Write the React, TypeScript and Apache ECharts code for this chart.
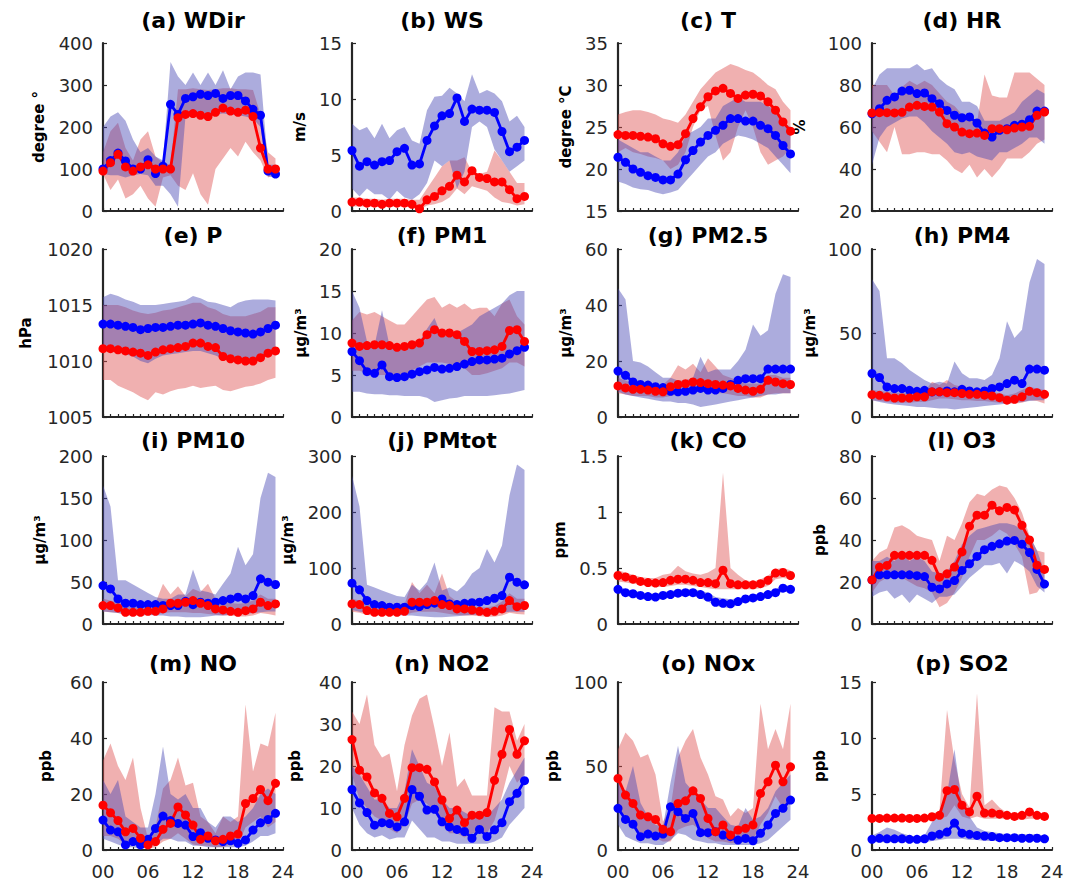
import React, { useEffect, useRef } from 'react';
import * as echarts from 'echarts';

const HOURS = ['00','01','02','03','04','05','06','07','08','09','10','11','12','13','14','15','16','17','18','19','20','21','22','23','24'];

// (a) WDir
const WDIR_B_MEAN = [100,120,138,119,100,100,122,89,107,254,230,268,272,278,275,280,268,275,275,262,242,228,95,88];
const WDIR_B_HI = [200,225,235,215,170,140,150,130,120,355,320,300,330,300,330,300,335,290,320,330,330,325,110,110];
const WDIR_B_LO = [88,85,85,80,85,88,85,60,60,40,10,225,225,228,228,230,232,230,228,225,220,200,82,80];
const WDIR_R_MEAN = [95,115,135,105,95,105,110,100,100,100,222,230,232,228,225,235,245,238,235,240,225,150,100,100];
const WDIR_R_HI = [140,190,210,150,120,170,190,130,115,110,290,290,292,290,288,290,292,292,290,290,288,230,140,125];
const WDIR_R_LO = [88,50,75,30,40,60,30,10,80,85,60,50,90,40,15,100,125,150,130,165,140,120,80,88];

// (b) WS
const WS_B_MEAN = [5.4,4.0,4.4,4.1,4.4,4.5,5.3,5.6,4.1,4.2,6.3,7.6,8.5,8.7,10.1,8.0,9.1,9.0,9.0,8.8,7.1,5.3,5.7,6.3];
const WS_B_HI = [7.8,7.2,7.5,6.5,7.8,6.5,7.2,7.5,6.3,6.0,9.0,10.2,10.3,11.0,10.5,9.8,12.2,10.5,10.8,10.5,9.8,8.0,8.5,7.5];
const WS_B_LO = [2.0,1.3,2.0,1.5,1.5,1.0,1.8,1.2,1.0,1.5,2.5,4.5,4.0,4.5,2.0,3.5,7.5,8.0,7.5,5.5,4.5,3.5,4.0,4.5];
const WS_R_MEAN = [0.8,0.8,0.7,0.7,0.6,0.7,0.7,0.7,0.6,0.2,1.0,1.3,1.8,2.2,3.2,2.6,3.6,3.0,2.9,2.6,2.6,1.9,1.1,1.3];
const WS_R_HI = [1.2,1.2,1.1,1.1,1.0,1.1,1.1,1.1,1.0,1.0,2.0,3.0,4.0,4.5,4.5,4.8,3.5,3.3,3.5,5.4,4.5,3.5,2.5,2.5];
const WS_R_LO = [0.4,0.4,0.4,0.4,0.3,0.4,0.4,0.4,0.3,0.1,0.5,0.6,0.8,1.2,2.0,1.5,2.2,2.0,1.8,1.2,0.8,0.7,0.5,0.6];

// (c) T
const T_B_MEAN = [21.4,20.8,20.0,19.6,19.2,19.0,18.7,18.7,19.4,21.1,22.2,23.2,24.0,24.6,25.2,26.0,26.0,25.7,25.7,25.2,24.8,24.0,22.8,21.8];
const T_B_HI = [23.5,23.0,22.5,22.0,22.0,21.5,21.0,21.0,22.0,24.0,24.5,25.0,26.0,26.0,27.5,28.0,28.5,28.0,28.0,28.0,27.5,27.0,25.5,25.0];
const T_B_LO = [18.5,18.2,17.8,17.6,17.5,17.2,17.0,17.2,17.5,18.5,19.5,20.5,21.5,22.0,23.0,23.5,24.0,23.8,23.5,23.0,22.5,21.5,20.5,19.5];
const T_R_MEAN = [24.1,24.0,24.0,23.9,23.8,23.6,23.0,22.7,22.9,24.2,26.0,27.4,28.6,29.3,29.6,29.0,28.4,28.8,28.9,28.7,28.0,27.0,25.6,24.5];
const T_R_HI = [26.5,26.8,27.0,27.0,26.8,26.5,26.0,25.8,25.5,26.5,28.0,29.5,30.5,31.5,32.0,32.5,32.2,31.8,31.5,30.8,30.0,29.5,28.0,27.0];
const T_R_LO = [22.0,22.5,22.0,21.8,21.5,21.3,21.0,20.0,20.5,22.0,25.0,27.0,27.5,24.0,21.0,22.0,25.0,27.0,25.0,22.0,20.5,21.0,21.5,22.5];

// (d) HR
const HR_B_MEAN = [66.3,68.7,72.7,74.3,77.1,77.5,75.9,76.2,73.5,71.1,67.9,65.6,64.4,64.8,61.9,57.1,55.2,58.4,59.2,60.8,61.3,63.5,67.6,67.6];
const HR_B_HI = [78,85,88,88,88,88,90,87,88,83,80,78,72,72,70,63,63,63,65,67,72,75,78,76];
const HR_B_LO = [42,55,60,62,64,65,65,62,58,55,52,48,47,48,46,45,44,48,48,50,52,55,55,52];
const HR_R_MEAN = [66.7,66.8,66.8,66.7,67.0,69.5,70.3,69.8,69.5,67.1,61.6,60.0,57.6,56.8,57.1,56.0,59.2,59.2,58.7,59.5,60.0,60.3,65.6,67.1];
const HR_R_HI = [80,80,80,75,79,82,80,82,80,76,72,70,66,65,62,85,75,74,74,86,86,86,83,80];
const HR_R_LO = [58,53,48,60,47,47,48,48,47,47,44,40,38,42,36,40,36,40,45,45,45,48,52,54];

// (e) P
const P_B_MEAN = [1013.3,1013.3,1013.2,1013.1,1013.0,1012.8,1012.9,1013.0,1013.0,1013.1,1013.2,1013.2,1013.3,1013.4,1013.2,1013.1,1012.9,1012.7,1012.6,1012.5,1012.4,1012.6,1012.9,1013.2];
const P_B_HI = [1015.7,1016.0,1015.8,1015.5,1015.3,1015.0,1015.0,1015.0,1015.1,1015.2,1015.3,1015.4,1015.8,1015.6,1015.3,1015.2,1015.0,1014.8,1015.2,1015.4,1015.5,1015.5,1015.5,1015.4];
const P_B_LO = [1010.9,1010.9,1010.8,1010.6,1010.4,1010.0,1009.8,1010.2,1010.5,1010.6,1010.7,1010.8,1010.9,1010.9,1010.7,1010.5,1010.2,1010.0,1009.9,1009.9,1010.0,1010.2,1010.5,1010.7];
const P_R_MEAN = [1011.1,1011.1,1011.0,1010.9,1010.8,1010.7,1010.5,1010.8,1011.0,1011.1,1011.2,1011.3,1011.6,1011.6,1011.3,1011.2,1010.4,1010.2,1010.1,1010.0,1010.0,1010.3,1010.7,1010.9];
const P_R_HI = [1015.0,1015.0,1015.0,1014.8,1014.5,1014.3,1014.2,1014.3,1014.5,1014.6,1014.8,1015.0,1015.2,1015.2,1014.8,1014.6,1014.2,1014.0,1014.0,1014.0,1014.2,1014.4,1014.8,1014.8];
const P_R_LO = [1008.3,1008.3,1007.8,1007.5,1007.2,1006.8,1006.5,1007.2,1007.0,1007.3,1007.5,1007.6,1007.8,1007.6,1007.7,1007.8,1007.4,1007.3,1007.5,1007.7,1007.8,1008.0,1008.3,1008.5];

// (f) PM1
const PM1_B_MEAN = [7.8,6.7,5.4,5.2,6.2,4.8,4.7,4.8,5.1,5.4,5.6,5.9,5.7,5.8,6.0,6.3,6.6,6.8,6.8,6.9,7.0,7.5,7.9,8.3];
const PM1_B_HI = [15.0,13.0,9.0,8.5,12.7,8.5,8.0,8.0,8.5,9.0,10.5,11.8,9.5,9.8,10.0,10.5,11.0,12.0,12.5,13.0,13.5,14.5,15.0,15.0];
const PM1_B_LO = [3.0,3.0,2.8,2.7,2.7,2.6,2.6,2.5,2.5,2.5,2.3,1.8,2.0,2.2,2.3,2.5,2.5,2.5,2.5,2.6,2.7,2.8,3.0,3.2];
const PM1_R_MEAN = [8.8,8.4,8.5,8.6,8.6,8.5,8.3,8.4,8.6,8.8,9.8,10.4,10.0,10.0,9.8,9.0,7.8,7.8,7.9,8.0,8.4,10.3,10.4,9.0];
const PM1_R_HI = [11.5,12.5,12.2,12.5,12.0,11.5,11.0,11.0,12.0,13.0,14.0,14.3,13.0,13.5,13.0,13.5,12.8,13.0,13.0,12.0,13.5,14.0,12.0,11.0];
const PM1_R_LO = [5.5,5.5,5.2,5.0,5.0,5.0,5.0,5.0,5.5,6.0,6.5,6.5,6.5,6.3,6.0,5.8,5.0,5.0,5.2,5.5,5.8,6.5,6.5,6.0];

// (g) PM2.5
const PM25_B_MEAN = [16.4,14.9,12.5,11.6,11.4,10.8,10.5,9.2,9.0,9.2,9.6,10.2,9.6,9.6,10.2,11.6,13.1,13.7,13.7,13.7,17.1,17.1,17.1,17.1];
const PM25_B_HI = [46,42,20,19.5,18,16,14,14,13,13,14,21.5,16,17,17,17,20,24,33,29,31,44,51,50];
const PM25_B_LO = [9,8,7.5,7,6.5,6,5.5,5.5,5,5,4.5,3.6,4,4.5,5,5.5,6,6.5,7,7.5,8,8,8.5,8.5];
const PM25_R_MEAN = [11.1,10.4,9.9,9.9,9.6,9.2,9.0,10.8,11.6,11.9,12.5,12.3,11.9,11.6,11.4,11.1,10.2,9.6,9.2,9.9,13.1,12.5,11.9,11.6];
const PM25_R_HI = [14,13,12,12,12,11.5,11.5,14,18.5,17,19,16,21,18,15,14,13,12,12,12,15,15,14,14];
const PM25_R_LO = [8.5,8,7.5,7.5,7.5,7,7,7.5,8,8.5,9,9,9,8.5,8.5,8,7.5,7.5,7,7,8,8.5,8.5,8.5];

// (h) PM4
const PM4_B_MEAN = [25.9,23.5,17.9,16.9,16.9,15.9,15.3,15.9,14.9,15.0,15.5,15.0,16.5,15.5,15.0,15.5,17.0,17.9,19.9,21.9,19.9,28.5,28.5,27.9];
const PM4_B_HI = [82,75,35,35,32,28,25,22,20,21,20,33,26,23,23,22,25,35,57,47,52,80,94,91];
const PM4_B_LO = [10,9,8,7.5,7,6.5,6,6,5.5,5,5,4.5,5,5.5,6,6.5,7,7.5,8,8.5,9,9.5,10,10];
const PM4_R_MEAN = [13.3,12.9,12.0,11.3,11.3,11.3,12.0,12.0,15.0,15.0,14.5,14.5,14.0,13.5,13.5,13.0,12.5,11.5,10.0,10.5,12.0,15.3,14.5,13.5];
const PM4_R_HI = [16,15.5,15,14.5,14.5,14,14.5,15,21,19,22,19,18,17,16,15.5,15,14,13,14,16,18,17,16];
const PM4_R_LO = [10,9.5,9,8.5,8.5,8.5,9,9,10,11,11,10.5,10,10,9.5,9.5,9,8.5,8,8,8.5,10,9.5,8];

// (i) PM10
const PM10_B_MEAN = [45.8,41.8,29.9,24.7,24.7,23.1,23.1,23.1,22.0,21.9,21.9,27.0,23.0,25.9,24.7,25.9,27.9,29.9,31.9,29.9,33.9,53.8,49.8,47.0];
const PM10_B_HI = [165,140,52,52,47,42,37,32,30,30,35,35,65,40,38,35,48,60,92,70,83,150,180,175];
const PM10_B_LO = [15,14,13,12,12,11,11,10,10,9,9,8,8,8,9,10,10,11,12,12,13,14,15,15];
const PM10_R_MEAN = [21.9,21.9,19.1,13.9,13.9,13.9,15.1,15.1,17.9,24.7,24.7,25.9,27.9,24.7,21.9,17.9,16.7,15.1,13.9,15.9,17.9,25.9,21.9,23.9];
const PM10_R_HI = [30,28,26,24,23,23,23,25,48,35,45,33,42,38,48,30,26,25,24,25,28,35,30,30];
const PM10_R_LO = [15,14,13,10,10,10,10,11,13,14,14,14,13,13,12,11,10,10,9,9,10,13,12,10];

// (j) PMtot
const PMT_B_MEAN = [72.9,61.0,41.8,34.7,32.9,29.9,29.9,29.9,32.9,31.1,34.7,37.1,44.8,35.9,34.7,37.0,38.0,38.9,41.8,46.0,50.8,83.7,74.7,70.0];
const PMT_B_HI = [265,210,70,65,60,55,50,48,70,60,75,110,60,65,58,70,90,100,134,110,140,230,285,275];
const PMT_B_LO = [25,22,20,18,18,17,16,15,15,14,13,12,12,13,14,15,16,17,18,19,20,22,22,22];
const PMT_R_MEAN = [35.9,34.7,23.9,20.9,20.9,20.9,20.9,22.7,38.9,38.9,38.9,41.8,34.7,32.9,26.9,26.9,25.0,22.7,20.9,22.7,26.9,41.8,31.0,33.0];
const PMT_R_HI = [45,42,38,33,30,30,30,35,75,55,70,55,90,50,40,35,32,30,30,32,40,55,45,45];
const PMT_R_LO = [22,20,16,15,15,15,15,16,20,22,22,22,20,18,16,15,15,14,13,13,15,20,18,17];

// (k) CO
const CO_B_MEAN = [0.31,0.28,0.27,0.255,0.245,0.24,0.255,0.263,0.275,0.28,0.28,0.263,0.24,0.194,0.185,0.18,0.2,0.224,0.233,0.245,0.263,0.28,0.32,0.31];
const CO_B_HI = [0.34,0.31,0.30,0.285,0.275,0.27,0.285,0.295,0.305,0.31,0.31,0.30,0.28,0.24,0.23,0.22,0.23,0.25,0.26,0.27,0.29,0.31,0.35,0.34];
const CO_B_LO = [0.28,0.25,0.24,0.225,0.215,0.21,0.225,0.235,0.245,0.25,0.25,0.23,0.2,0.16,0.15,0.14,0.17,0.195,0.205,0.215,0.235,0.25,0.29,0.28];
const CO_R_MEAN = [0.433,0.42,0.40,0.38,0.37,0.365,0.37,0.39,0.40,0.40,0.39,0.37,0.37,0.36,0.48,0.36,0.35,0.35,0.35,0.36,0.39,0.455,0.46,0.433];
const CO_R_HI = [0.48,0.46,0.44,0.42,0.41,0.41,0.44,0.45,0.52,0.47,0.45,0.44,0.46,0.50,1.35,0.50,0.44,0.39,0.38,0.40,0.43,0.49,0.50,0.48];
const CO_R_LO = [0.38,0.37,0.36,0.35,0.34,0.33,0.33,0.34,0.35,0.35,0.34,0.33,0.32,0.31,0.31,0.31,0.31,0.31,0.31,0.32,0.34,0.40,0.41,0.40];

// (l) O3
const O3_B_MEAN = [21,23.4,23.4,23.4,23.4,23.4,23,22.6,17.5,16.7,19.1,20.7,25.5,28.7,32.2,35.4,37,38.2,39.5,39.8,38,34,26,19];
const O3_B_HI = [30,30,32,30,33,30,32,30,25,24,25,30,38,42,45,46,47,48,48,47,45,42,35,25];
const O3_B_LO = [13,15,16,12,14,10,14,12,10,13,13,14,18,22,25,28,28,29,24,30,28,25,18,15];
const O3_R_MEAN = [21,27.1,27.9,32.7,32.7,32.7,32.7,32.7,30.3,22.3,23.9,27.1,34.3,46.6,51.8,51.8,56.6,53.9,55.5,54.3,47,40,28,26];
const O3_R_HI = [30,34,36,46,47,45,42,41,40,30,42,40,48,58,62,61,64,66,65,60,53,42,35,34];
const O3_R_LO = [15,20,22,23,22,20,18,17,15,8,10,15,22,32,40,40,42,45,43,38,32,14,15,20];

// (m) NO
const NO_B_MEAN = [10.7,7.1,6.5,1.8,3.0,1.8,3.8,7.7,12.1,10.5,9.5,8.9,4.8,6.2,4.2,3.6,3.0,3.3,2.4,3.6,7.1,9.7,10.9,13.1];
const NO_B_HI = [25,20,25,12,10,8,8,20,37,20,18,20,15,15,10,8,12,12,10,12,15,20,22,20];
const NO_B_LO = [4,3,2,1,1,0.5,1,2,4,4,3,3,1.5,1.5,1,1,1,1,1,1.5,3,5,5,6];
const NO_R_MEAN = [16,13.3,10.5,6.5,7.7,4.2,1.8,3.0,7.4,9.5,15.4,12.5,8.9,3.8,5.0,3.3,3.8,5.0,5.7,16.6,18.4,21.6,17.6,23.8];
const NO_R_HI = [32,38,30,25,33,15,4,8,22,25,33,23,24,12,10,6,12,10,12,52,28,38,37,49];
const NO_R_LO = [5,5,4,2,2,1,0.5,1,3,4,6,4,2,1.5,1.5,1,1,2,2,8,10,12,8,10];

// (n) NO2
const NO2_B_MEAN = [14.4,11.2,8.9,5.9,6.5,6.3,5.5,6.7,14.4,12.8,9.5,9.7,6.7,5.5,4.9,4.4,2.8,4.9,3.2,4.8,6.5,11.5,13.5,16.5];
const NO2_B_HI = [20,18,15,12,12,10,10,14,24,20,16,15,12,10,10,9,8,9,8,10,12,16,19,22];
const NO2_B_LO = [10,6,4,3,3.5,2.5,3,3,7,5,3,3,2,2,1.5,1.5,1.5,1.5,1.5,2,3,6,8,10];
const NO2_R_MEAN = [26.3,19,17.4,13.6,12.3,8.7,7.9,12.3,19.6,19.6,19.2,16.2,11.9,7.5,9.5,6.5,8.3,8.3,8.9,16.6,22.8,28.7,22.8,26];
const NO2_R_HI = [33,30,37,25,22,23,14,25,32,36,37,29,20,28,15,17,13,13,13,34,33,33,26,30];
const NO2_R_LO = [18,12,10,8,7,5,4,6,11,12,11,9,6,4,4,3,4,4,4,7,13,20,16,18];

// (o) NOx
const NOX_B_MEAN = [24.8,18.2,15.4,7.9,9.5,8.3,9.5,25.7,22.8,18.8,21.8,10.3,10.3,10.9,8.9,7.9,5.9,6.9,5.5,9.9,14.9,21.8,24.8,29.7];
const NOX_B_HI = [40,35,50,28,20,15,14,40,62,40,35,30,25,25,20,15,14,25,18,20,25,35,40,45];
const NOX_B_LO = [15,8,6,4,4,3,3,6,10,9,6,5,4,4,3,3,3,3,3,4,6,10,14,18];
const NOX_R_MEAN = [42.6,32.7,27.7,20.8,19.8,18.2,12.3,10.9,27.7,29.3,35.2,30.7,18.8,10.9,14.9,8.9,11.9,12.9,14.9,33.7,40.6,50.5,40.6,49.5];
const NOX_R_HI = [60,70,65,55,57,45,17,25,55,65,72,55,45,32,30,20,25,22,25,87,60,72,60,87];
const NOX_R_LO = [25,18,14,10,9,7,5,5,12,14,15,12,7,5,5,4,4,5,6,15,22,32,25,30];

// (p) SO2
const SO2_B_MEAN = [0.95,1.04,1.0,1.0,1.0,0.95,0.95,1.0,1.25,1.4,1.6,2.4,1.5,1.4,1.3,1.25,1.2,1.1,1.1,1.1,1.05,1.05,1.05,1.0];
const SO2_B_HI = [1.3,1.6,2.0,1.8,1.5,1.3,1.2,1.3,2.5,3.5,5.0,9.0,4.0,3.0,2.0,1.7,1.6,1.5,1.4,1.4,1.4,1.4,1.4,1.3];
const SO2_B_LO = [0.7,0.7,0.7,0.7,0.7,0.7,0.7,0.7,0.8,0.9,1.0,1.0,1.0,0.9,0.9,0.8,0.8,0.8,0.8,0.8,0.8,0.8,0.8,0.7];
const SO2_R_MEAN = [2.82,2.82,2.85,2.85,2.85,2.82,2.82,2.85,2.97,3.1,5.3,5.4,4.0,3.4,4.8,3.3,3.3,3.2,3.1,3.0,3.1,3.4,3.1,3.0];
const SO2_R_HI = [3.0,3.0,3.0,3.0,3.0,3.0,3.0,3.0,3.2,3.5,12.5,8.0,5.0,3.8,14.0,4.0,4.5,3.8,3.3,3.2,3.2,3.5,3.3,3.2];
const SO2_R_LO = [2.6,2.6,2.6,2.6,2.6,2.6,2.6,2.6,2.7,2.8,3.0,4.0,3.0,2.8,3.0,2.8,2.8,2.8,2.8,2.7,2.7,2.8,2.8,2.7];

const TITLES = ['(a) WDir','(b) WS','(c) T','(d) HR','(e) P','(f) PM1','(g) PM2.5','(h) PM4','(i) PM10','(j) PMtot','(k) CO','(l) O3','(m) NO','(n) NO2','(o) NOx','(p) SO2'];
const UNITS = ['degree °','m/s','degree °C','%','hPa','µg/m³','µg/m³','µg/m³','µg/m³','µg/m³','ppm','ppb','ppb','ppb','ppb','ppb'];
const Y_MIN = [0,0,15,20,1005,0,0,0,0,0,0,0,0,0,0,0];
const Y_MAX = [400,15,35,100,1020,20,60,100,200,300,1.5,80,60,40,100,15];
const Y_STEP = [100,5,5,20,5,5,20,50,50,100,0.5,20,20,10,50,5];

const BLUE = [
  [WDIR_B_MEAN,WDIR_B_HI,WDIR_B_LO],[WS_B_MEAN,WS_B_HI,WS_B_LO],[T_B_MEAN,T_B_HI,T_B_LO],[HR_B_MEAN,HR_B_HI,HR_B_LO],
  [P_B_MEAN,P_B_HI,P_B_LO],[PM1_B_MEAN,PM1_B_HI,PM1_B_LO],[PM25_B_MEAN,PM25_B_HI,PM25_B_LO],[PM4_B_MEAN,PM4_B_HI,PM4_B_LO],
  [PM10_B_MEAN,PM10_B_HI,PM10_B_LO],[PMT_B_MEAN,PMT_B_HI,PMT_B_LO],[CO_B_MEAN,CO_B_HI,CO_B_LO],[O3_B_MEAN,O3_B_HI,O3_B_LO],
  [NO_B_MEAN,NO_B_HI,NO_B_LO],[NO2_B_MEAN,NO2_B_HI,NO2_B_LO],[NOX_B_MEAN,NOX_B_HI,NOX_B_LO],[SO2_B_MEAN,SO2_B_HI,SO2_B_LO],
];
const RED = [
  [WDIR_R_MEAN,WDIR_R_HI,WDIR_R_LO],[WS_R_MEAN,WS_R_HI,WS_R_LO],[T_R_MEAN,T_R_HI,T_R_LO],[HR_R_MEAN,HR_R_HI,HR_R_LO],
  [P_R_MEAN,P_R_HI,P_R_LO],[PM1_R_MEAN,PM1_R_HI,PM1_R_LO],[PM25_R_MEAN,PM25_R_HI,PM25_R_LO],[PM4_R_MEAN,PM4_R_HI,PM4_R_LO],
  [PM10_R_MEAN,PM10_R_HI,PM10_R_LO],[PMT_R_MEAN,PMT_R_HI,PMT_R_LO],[CO_R_MEAN,CO_R_HI,CO_R_LO],[O3_R_MEAN,O3_R_HI,O3_R_LO],
  [NO_R_MEAN,NO_R_HI,NO_R_LO],[NO2_R_MEAN,NO2_R_HI,NO2_R_LO],[NOX_R_MEAN,NOX_R_HI,NOX_R_LO],[SO2_R_MEAN,SO2_R_HI,SO2_R_LO],
];

// layout
const COL_LEFT = [103, 352, 618, 872];
const ROW_TOP = [43, 249, 456, 682];
const PANEL_W = 180;
const PANEL_H = 168;
const TITLE_TOP = [9, 224, 429, 652];
const NAME_GAP = [57, 45, 45, 65, 70, 44, 45, 55, 56, 57, 51, 45, 50, 50, 58, 45];

const FONT = 'DejaVu Sans';
const AXIS_COLOR = '#262626';

function buildOption() {
  const grid: any[] = [];
  const xAxis: any[] = [];
  const yAxis: any[] = [];
  const series: any[] = [];
  const title: any[] = [];
  for (let i = 0; i < 16; i++) {
    const row = Math.floor(i / 4);
    const col = i % 4;
    grid.push({ left: COL_LEFT[col], top: ROW_TOP[row], width: PANEL_W, height: PANEL_H, containLabel: false });
    title.push({
      text: TITLES[i], left: COL_LEFT[col] + PANEL_W / 2, top: TITLE_TOP[row], textAlign: 'center', padding: 0,
      textStyle: { fontFamily: FONT, fontSize: 22, fontWeight: 'bold', color: '#000' },
    });
    xAxis.push({
      type: 'category', gridIndex: i, data: HOURS, boundaryGap: false,
      axisLine: { show: true, lineStyle: { color: AXIS_COLOR, width: 2.2 } },
      axisTick: { show: true, inside: true, length: 3, interval: 0, lineStyle: { color: AXIS_COLOR, width: 1.2 } },
      axisLabel: {
        show: row === 3, interval: (idx: number) => idx % 6 === 0, margin: 12,
        fontFamily: FONT, fontSize: 18, color: AXIS_COLOR,
      },
      splitLine: { show: false },
    });
    yAxis.push({
      type: 'value', gridIndex: i, min: Y_MIN[i], max: Y_MAX[i], interval: Y_STEP[i],
      axisLine: { show: true, lineStyle: { color: AXIS_COLOR, width: 2.2 } },
      axisTick: { show: true, inside: true, length: 4, lineStyle: { color: AXIS_COLOR, width: 1.2 } },
      axisLabel: { margin: 10, fontFamily: FONT, fontSize: 18, color: AXIS_COLOR, formatter: (v: number) => String(v) },
      splitLine: { show: false },
      name: UNITS[i], nameLocation: 'middle', nameGap: NAME_GAP[i],
      nameTextStyle: { fontFamily: FONT, fontSize: 15, fontWeight: 'bold', color: '#000' },
    });
    const [rMean, rHi, rLo] = RED[i];
    const [bMean, bHi, bLo] = BLUE[i];
    const band = (lo: number[], hi: number[], color: string, key: string) => [
      {
        type: 'line', xAxisIndex: i, yAxisIndex: i, data: lo, stack: key, symbol: 'none', silent: true,
        lineStyle: { width: 0, opacity: 0 },
      },
      {
        type: 'line', xAxisIndex: i, yAxisIndex: i, data: hi.map((v, k) => v - lo[k]), stack: key, symbol: 'none', silent: true,
        lineStyle: { width: 0, opacity: 0 }, areaStyle: { color, opacity: 0.45 },
      },
    ];
    series.push(...band(rLo, rHi, 'rgb(222,80,80)', 'red' + i));
    series.push(...band(bLo, bHi, 'rgb(70,70,180)', 'blue' + i));
    series.push({
      type: 'line', xAxisIndex: i, yAxisIndex: i, data: bMean, symbol: 'circle', symbolSize: 9, showAllSymbol: true,
      itemStyle: { color: '#0000ff' }, lineStyle: { color: '#0000ff', width: 2.8 },
    });
    series.push({
      type: 'line', xAxisIndex: i, yAxisIndex: i, data: rMean, symbol: 'circle', symbolSize: 9, showAllSymbol: true,
      itemStyle: { color: '#ff0000' }, lineStyle: { color: '#ff0000', width: 2.8 },
    });
  }
  return { animation: false, backgroundColor: '#ffffff', title, grid, xAxis, yAxis, series };
}

export default function App() {
  const ref = useRef<HTMLDivElement>(null);
  useEffect(() => {
    if (!ref.current) return;
    const chart = echarts.init(ref.current, undefined, { renderer: 'svg' });
    chart.setOption(buildOption() as any);
    return () => chart.dispose();
  }, []);
  return <div ref={ref} style={{ position: 'absolute', left: 0, top: 0, width: 1079, height: 883, background: '#fff' }} />;
}
